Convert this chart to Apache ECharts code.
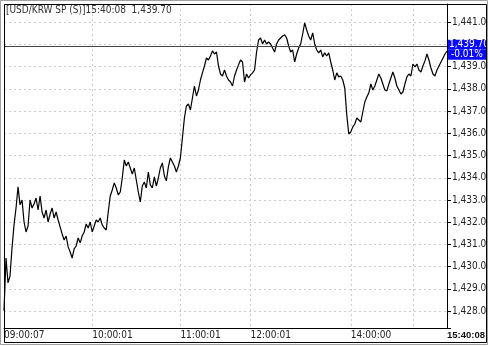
<!DOCTYPE html>
<html><head><meta charset="utf-8">
<script src="https://cdn.jsdelivr.net/npm/echarts@6/dist/echarts.min.js"></script>
<style>html,body{margin:0;padding:0;background:#fff}#c{width:489px;height:346px}</style>
</head><body><div id="c"></div>
<script>
const symbolName = '[USD/KRW SP (S)]';
const lastTime = '15:40:08';
const prevClose = 1439.9;
const prices = [
1428.01,1430.39,1429.27,1429.58,1430.84,1431.88,1432.64,1433.59,1432.78,1433.00,
1432.01,1431.56,1431.83,1433.00,1432.64,1432.82,1433.09,1432.55,1433.18,1432.46,
1432.19,1432.55,1432.01,1432.37,1432.64,1432.19,1432.46,1432.10,1431.79,1431.47,
1431.20,1431.38,1430.89,1430.66,1430.39,1430.80,1430.93,1431.29,1431.07,1431.38,
1431.56,1431.92,1431.74,1432.01,1431.56,1431.83,1432.10,1432.01,1432.19,1431.88,
1431.74,1431.65,1432.46,1433.18,1433.45,1433.77,1433.54,1433.23,1433.36,1433.99,
1434.80,1434.53,1434.71,1434.44,1434.17,1434.44,1433.90,1433.36,1432.91,1433.63,
1433.81,1433.54,1434.26,1433.68,1433.54,1434.04,1433.63,1433.99,1434.44,1434.67,
1434.08,1433.86,1434.49,1434.89,1434.71,1434.53,1434.26,1434.53,1434.89,1435.79,
1436.69,1437.23,1437.32,1437.05,1437.59,1438.13,1437.68,1437.95,1438.40,1438.72,
1439.03,1439.39,1439.30,1439.48,1439.71,1439.57,1439.66,1439.03,1438.67,1438.58,
1438.85,1438.58,1438.40,1438.31,1438.13,1438.58,1438.85,1439.08,1439.30,1439.21,
1438.31,1438.67,1438.49,1438.63,1438.72,1438.85,1439.66,1440.20,1440.29,1440.02,
1440.20,1440.02,1440.11,1440.02,1439.84,1439.66,1440.02,1440.20,1440.29,1440.38,
1440.43,1440.29,1439.93,1439.66,1439.75,1439.21,1439.57,1439.84,1440.02,1440.47,
1440.97,1440.65,1440.38,1440.20,1440.52,1440.02,1439.75,1439.62,1439.75,1439.44,
1439.62,1439.48,1439.62,1439.21,1438.85,1438.40,1438.72,1438.54,1438.58,1438.40,
1438.04,1436.83,1435.97,1436.06,1436.29,1436.42,1436.69,1436.60,1436.51,1436.96,
1437.41,1437.64,1437.82,1438.22,1437.95,1438.13,1438.40,1438.67,1438.49,1438.22,
1437.95,1437.91,1438.22,1438.49,1438.76,1438.49,1438.13,1437.95,1437.77,1437.86,
1438.22,1438.54,1438.67,1438.58,1439.12,1438.99,1439.12,1438.85,1438.76,1439.03,
1439.26,1439.57,1439.30,1438.94,1438.67,1438.58,1438.85,1439.03,1439.21,1439.39,
1439.57,1439.70
];
const tickIndex = [0, 44, 88, 123, 173, 204, 221];
const tickLabels = ['09:00:07', '10:00:01', '11:00:01', '12:00:01', '14:00:00', '15:00:00', '15:40:08'];
const hiddenTickLabels = ['15:00:00'];
const yMin = 1427.24, yMax = 1441.82;

const FONT = "'DejaVu Sans Condensed','Liberation Sans',sans-serif";
const FS = 10;
const fmt = v => v.toLocaleString('en-US', {minimumFractionDigits: 2, maximumFractionDigits: 2});
const last = prices[prices.length - 1];
const pct = ((last - prevClose) / prevClose * 100).toFixed(2);
const categories = prices.map((_, i) => String(i));

const boxStyle = {backgroundColor: '#0a0aff', color: '#fff', fontSize: FS, fontFamily: FONT,
  lineHeight: 10, height: 10, width: 37, padding: [0, 0, 0, 1], align: 'left'};

const chart = echarts.init(document.getElementById('c'), null, {renderer: 'canvas'});
chart.setOption({
  animation: false,
  backgroundColor: '#fff',
  title: {
    text: symbolName + lastTime + '  ' + fmt(last),
    left: 6, top: 5, padding: 0,
    textStyle: {fontSize: FS, fontWeight: 'normal', color: '#333', fontFamily: FONT}
  },
  grid: {left: 4, right: 42, top: 4, bottom: 18, containLabel: false, outerBoundsMode: 'none'},
  xAxis: {
    type: 'category', data: categories, boundaryGap: false,
    axisLine: {show: true, lineStyle: {color: '#000', width: 1}},
    axisTick: {show: false},
    axisLabel: {
      interval: (idx) => {
        const k = tickIndex.indexOf(idx);
        return k >= 0 && !hiddenTickLabels.includes(tickLabels[k]);
      },
      formatter: (val) => {
        const k = tickIndex.indexOf(Number(val));
        if (k < 0) return '';
        return k === tickLabels.length - 1 ? '{b|' + tickLabels[k] + '}' : tickLabels[k];
      },
      align: 'left', margin: 2, fontSize: FS, color: '#222', fontFamily: FONT,
      hideOverlap: false,
      rich: {b: {fontWeight: 'bold', fontSize: 9.5, color: '#111', fontFamily: "'Liberation Sans',sans-serif"}}
    },
    splitLine: {
      show: true,
      interval: (idx) => tickIndex.includes(idx) && idx !== 0 && idx !== prices.length - 1,
      lineStyle: {color: '#cccccc', type: [2, 3], width: 1}
    }
  },
  yAxis: {
    type: 'value', position: 'right', min: yMin, max: yMax, splitNumber: 14, scale: true,
    axisLine: {show: true, lineStyle: {color: '#000', width: 1}},
    axisTick: {show: true, length: 4, lineStyle: {color: '#000'}},
    axisLabel: {
      margin: 5, fontSize: FS, color: '#222', fontFamily: FONT,
      formatter: v => Math.abs(v - Math.round(v)) < 1e-6 ? fmt(v) : ''
    },
    splitLine: {show: true, lineStyle: {color: '#cccccc', type: [2, 3], width: 1}}
  },
  series: [{
    type: 'line', data: prices, showSymbol: false, symbol: 'none',
    lineStyle: {color: '#000', width: 1.2}, clip: true,
    markLine: {
      silent: true, symbol: 'none', animation: false,
      lineStyle: {color: '#444', width: 1, type: 'solid'},
      label: {
        show: true, position: 'end', distance: 1,
        formatter: () => '{e| }\n{v|' + fmt(last) + '}\n{p|' + pct + '%}',
        fontSize: FS, fontFamily: FONT, align: 'left', overflow: 'none',
        rich: {
          e: {fontSize: 6, lineHeight: 6, height: 6, color: 'transparent'},
          v: boxStyle,
          p: Object.assign({}, boxStyle, {padding: [0, 0, 0, 3]}),
        }
      },
      data: [{yAxis: prevClose}]
    }
  }],
  graphic: [
    {type: 'rect', z: 100, silent: true, shape: {x: 486.5, y: 0, width: 3, height: 346}, style: {fill: '#fff', stroke: null}},
    {type: 'rect', z: 101, silent: true, shape: {x: 0.5, y: 0.5, width: 487, height: 344}, style: {fill: null, stroke: '#a0a0a0', lineWidth: 1}},
    {type: 'polyline', z: 102, silent: true, shape: {points: [[4.5, 342.5], [4.5, 4.5], [486.5, 4.5], [486.5, 342.5], [4.5, 342.5]]}, style: {fill: null, stroke: '#000', lineWidth: 1}}
  ]
});
</script></body></html>
